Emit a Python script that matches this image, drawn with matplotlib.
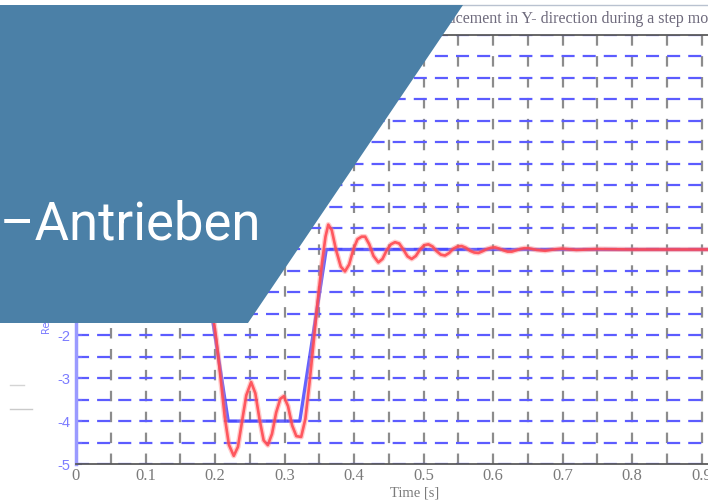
import numpy as np
import matplotlib
matplotlib.use("Agg")
import matplotlib.pyplot as plt
from matplotlib.patches import Polygon
from matplotlib.lines import Line2D
from matplotlib.ticker import MultipleLocator

ref_time = [0.0, 0.181, 0.219, 0.322, 0.36, 1.0]
ref_pos = [0.0, 0.0, -4.0, -4.0, 0.0, 0.0]

meas_time = [0.0, 0.18, 0.184, 0.19, 0.196, 0.202, 0.208, 0.214, 0.22, 0.227,
             0.233, 0.239, 0.245, 0.252, 0.258, 0.264, 0.27, 0.276, 0.282, 0.288,
             0.294, 0.299, 0.305, 0.311, 0.317, 0.324, 0.33, 0.336, 0.342, 0.348,
             0.354, 0.359, 0.363, 0.368, 0.374, 0.381, 0.387, 0.393, 0.399, 0.405,
             0.411, 0.416, 0.422, 0.428, 0.435, 0.441, 0.447, 0.453, 0.459, 0.465,
             0.471, 0.477, 0.483, 0.489, 0.495, 0.501, 0.507, 0.513, 0.519, 0.525,
             0.531, 0.537, 0.543, 0.549, 0.555, 0.561, 0.567, 0.573, 0.579, 0.585,
             0.591, 0.597, 0.603, 0.609, 0.615, 0.621, 0.627, 0.633, 0.639, 0.645,
             0.651, 0.663, 0.675, 0.687, 0.699, 0.72, 0.75, 0.8, 1.0]
meas_pos = [0.0, 0.0, -0.1, -0.6, -1.4, -2.1, -3.0, -3.9, -4.55, -4.81,
            -4.6, -4.0, -3.4, -3.09, -3.35, -3.95, -4.45, -4.56, -4.3, -3.8,
            -3.48, -3.42, -3.65, -4.1, -4.35, -4.37, -3.95, -3.1, -2.15, -1.16,
            -0.3, 0.3, 0.58, 0.45, 0.0, -0.4, -0.51, -0.35, 0.0, 0.24,
            0.3, 0.3, 0.12, -0.15, -0.3, -0.22, -0.02, 0.12, 0.17, 0.14,
            0.0, -0.16, -0.22, -0.15, 0.0, 0.1, 0.12, 0.07, -0.04, -0.12,
            -0.14, -0.08, 0.02, 0.07, 0.08, 0.04, -0.03, -0.07, -0.08, -0.04,
            0.01, 0.04, 0.05, 0.02, -0.02, -0.05, -0.05, -0.02, 0.01, 0.03,
            0.03, -0.01, -0.03, 0.0, 0.02, -0.01, 0.01, 0.0, 0.0]

x_ticks = [0, 0.1, 0.2, 0.3, 0.4, 0.5, 0.6, 0.7, 0.8, 0.9]
x_tick_labels = ['0', '0.1', '0.2', '0.3', '0.4', '0.5', '0.6', '0.7', '0.8', '0.9']
y_ticks = [-5, -4, -3, -2, -1, 0, 1, 2, 3, 4, 5]
y_tick_labels = ['-5', '-4', '-3', '-2', '-1', '0', '1', '2', '3', '4', '5']

title = "Displacement in Y- direction during a step movement"
banner = "X\u2013Antrieben"

W, H = 708, 504
def fx(px):
    return px / W
def fy(py):
    return 1 - py / H

plt.rcParams['lines.scale_dashes'] = False
plt.rcParams['axes.unicode_minus'] = False

fig = plt.figure(figsize=(W / 100, H / 100), dpi=100)
fig.patch.set_facecolor('white')

# axes run past the right edge, as in the cropped screenshot
ax = fig.add_axes([fx(76), fy(464), 695 / W, 429 / H])
ax.set_xlim(0, 1.0)
ax.set_ylim(-5, 5)

ax.xaxis.set_minor_locator(MultipleLocator(0.05))
ax.yaxis.set_minor_locator(MultipleLocator(0.5))
ax.set_xticks(x_ticks)
ax.set_xticklabels(x_tick_labels, family='Liberation Serif', fontsize=12, color='#7a7a7a')
ax.set_yticks(y_ticks)
ax.set_yticklabels(y_tick_labels, family='Liberation Sans', fontsize=10.5, color='#7c7cff')

ax.tick_params(axis='x', which='both', length=0, pad=3)
ax.tick_params(axis='y', which='both', direction='in', length=4, width=1.5,
               color='#6a6aff', pad=4)

ax.grid(axis='y', which='both', color='#5c5cff', linewidth=1.6,
        linestyle=(0, (9.4, 5.8)), zorder=1)
ax.grid(axis='x', which='both', color='#8c8c8c', linewidth=1.6,
        linestyle=(0, (7.53, 7.53)), zorder=1)
ax.set_axisbelow(True)

ax.spines['left'].set_color('#9a9aff')
ax.spines['left'].set_linewidth(2.5)
for s in ('bottom', 'top'):
    ax.spines[s].set_color('#5a5a5a')
    ax.spines[s].set_linewidth(1.3)
ax.spines['right'].set_visible(False)

ax.plot(ref_time, ref_pos, color='#4848ff', linewidth=2.4, alpha=0.85, zorder=3)
ax.plot(meas_time, meas_pos, color='#ff8080', linewidth=3.8, alpha=0.4, zorder=4,
        solid_joinstyle='round')
ax.plot(meas_time, meas_pos, color='#ff4a52', linewidth=1.9, alpha=0.9, zorder=5,
        solid_joinstyle='round')

fig.text(fx(415), fy(493), "Time [s]", family='Liberation Serif', fontsize=10.5,
         color='#7a7a7a', ha='center', va='center')
fig.text(fx(47), fy(334), "Relative position [mm]", rotation=90, fontsize=7,
         color='#7c7cff', ha='center', va='bottom')

# title strip above the plot
fig.add_artist(Line2D([fx(430), fx(720)], [fy(5), fy(5)], color='#b9c2d0',
                      linewidth=1.0, zorder=2))
fig.text(fx(414), fy(19), title, family='Liberation Serif', fontsize=11.5,
         color='#6e6a7c', ha='left', va='center', zorder=2)

# faint marks at the left edge
fig.add_artist(Line2D([fx(10), fx(24)], [fy(385), fy(385)], color='#d4d4d4',
                      linewidth=1.0, zorder=2))
fig.add_artist(Line2D([fx(10), fx(32)], [fy(409), fy(409)], color='#cacaca',
                      linewidth=1.0, zorder=2))

# slide overlay
overlay = Polygon([[fx(0), fy(5)], [fx(463), fy(5)], [fx(248), fy(323)], [fx(0), fy(323)]],
                  closed=True, transform=fig.transFigure, facecolor='#4b80a7',
                  edgecolor='none', zorder=10)
fig.add_artist(overlay)
fig.text(fx(261), fy(239), banner, family='Roboto', fontsize=38, color='white',
         ha='right', va='baseline', zorder=11)

fig.savefig('out.png', dpi=100)
